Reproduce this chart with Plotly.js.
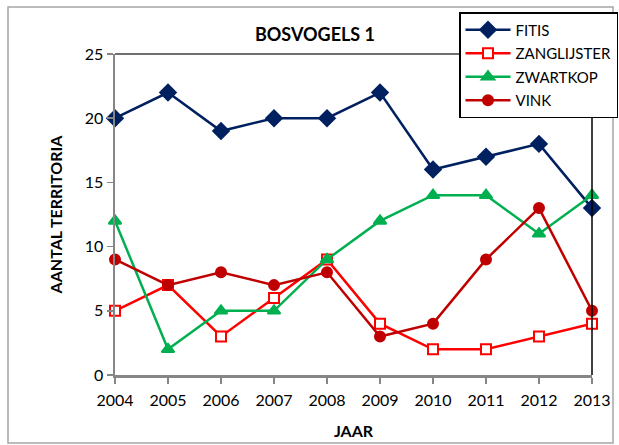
<!DOCTYPE html>
<html>
<head>
<meta charset="utf-8">
<script src="https://cdn.plot.ly/plotly-3.0.1.min.js"></script>
<style>
html,body{margin:0;padding:0;background:#fff;}
#chart{width:619px;height:445px;}
</style>
</head>
<body>
<div id="chart"></div>
<script>
const years = [2004, 2005, 2006, 2007, 2008, 2009, 2010, 2011, 2012, 2013];
const fitis = [20, 22, 19, 20, 20, 22, 16, 17, 18, 13];
const zanglijster = [5, 7, 3, 6, 9, 4, 2, 2, 3, 4];
const zwartkop = [12, 2, 5, 5, 9, 12, 14, 14, 11, 14];
const vink = [9, 7, 8, 7, 8, 3, 4, 9, 13, 5];
const yTicks = [0, 5, 10, 15, 20, 25];

const FONT = 'Lato, "Open Sans", sans-serif';

function tr(name, y, color, symbol, size, fill, grp) {
  return {
    x: years, y: y, name: name, type: 'scatter', mode: 'lines+markers',
    line: {color: color, width: 2.5},
    marker: {symbol: symbol, size: size, color: fill, line: {color: color, width: 2}},
    cliponaxis: false, legendgroup: grp
  };
}

const data = [
  tr('FITIS', fitis, '#002060', 'diamond', 12, '#002060', 'a'),
  tr('ZANGLIJSTER', zanglijster, '#FF0000', 'square', 10, '#FFFFFF', 'b'),
  tr('ZWARTKOP', zwartkop, '#00B050', 'triangle-up', 11, '#00B050', 'c'),
  tr('VINK', vink, '#C00000', 'circle', 10, '#C00000', 'd')
];

const layout = {
  width: 619, height: 445,
  margin: {l: 115, r: 27, t: 54, b: 70, autoexpand: false},
  paper_bgcolor: '#fff', plot_bgcolor: '#fff',
  font: {family: FONT, size: 16, color: '#000'},
  title: {text: '<b>BOSVOGELS 1</b>', font: {family: FONT, size: 18, color: '#000'},
          x: 315/619, xanchor: 'center', y: 1 - 35/445, yanchor: 'middle'},
  xaxis: {
    range: [2004, 2013], tickmode: 'array', tickvals: years, ticktext: years.map(String),
    showgrid: false, zeroline: false, showline: true, linecolor: '#868686', linewidth: 2.5,
    ticks: 'outside', ticklen: 6, tickcolor: '#868686', tickwidth: 1.5,
    ticklabelstandoff: 3, automargin: false,
    tickfont: {family: FONT, size: 16, color: '#000'},
    title: {text: '<b>JAAR</b>', font: {family: FONT, size: 16, color: '#000'}, standoff: 18}
  },
  yaxis: {
    range: [0, 25], tickmode: 'array', tickvals: yTicks, ticktext: yTicks.map(String),
    showgrid: false, zeroline: false, showline: true, linecolor: '#868686', linewidth: 2.5,
    ticks: 'outside', ticklen: 6, tickcolor: '#868686', tickwidth: 1.5, automargin: false,
    tickfont: {family: FONT, size: 16, color: '#000'},
    title: {text: '<b>AANTAL TERRITORIA</b>', font: {family: FONT, size: 16, color: '#000'}, standoff: 18}
  },
  showlegend: true,
  legend: {
    x: (459 - 115) / 477, y: (375 - 12) / 321, xanchor: 'left', yanchor: 'top',
    bgcolor: '#fff', bordercolor: '#000', borderwidth: 1.5,
    font: {family: FONT, size: 15, color: '#000'},
    tracegroupgap: 1, itemwidth: 45
  },
  shapes: [
    {type: 'line', xref: 'paper', yref: 'paper', x0: 0, x1: 1, y0: 1, y1: 1, line: {color: '#404040', width: 1.5}},
    {type: 'line', xref: 'paper', yref: 'paper', x0: 1, x1: 1, y0: 0, y1: 1, line: {color: '#000', width: 1.5}},
    {type: 'rect', xref: 'paper', yref: 'paper',
     x0: (8 - 115) / 477, x1: (613 - 115) / 477, y0: (375 - 443) / 321, y1: (375 - 7) / 321,
     line: {color: '#A6A6A6', width: 1.5}}
  ]
};

Plotly.newPlot('chart', data, layout, {displayModeBar: false, staticPlot: true});
</script>
</body>
</html>
